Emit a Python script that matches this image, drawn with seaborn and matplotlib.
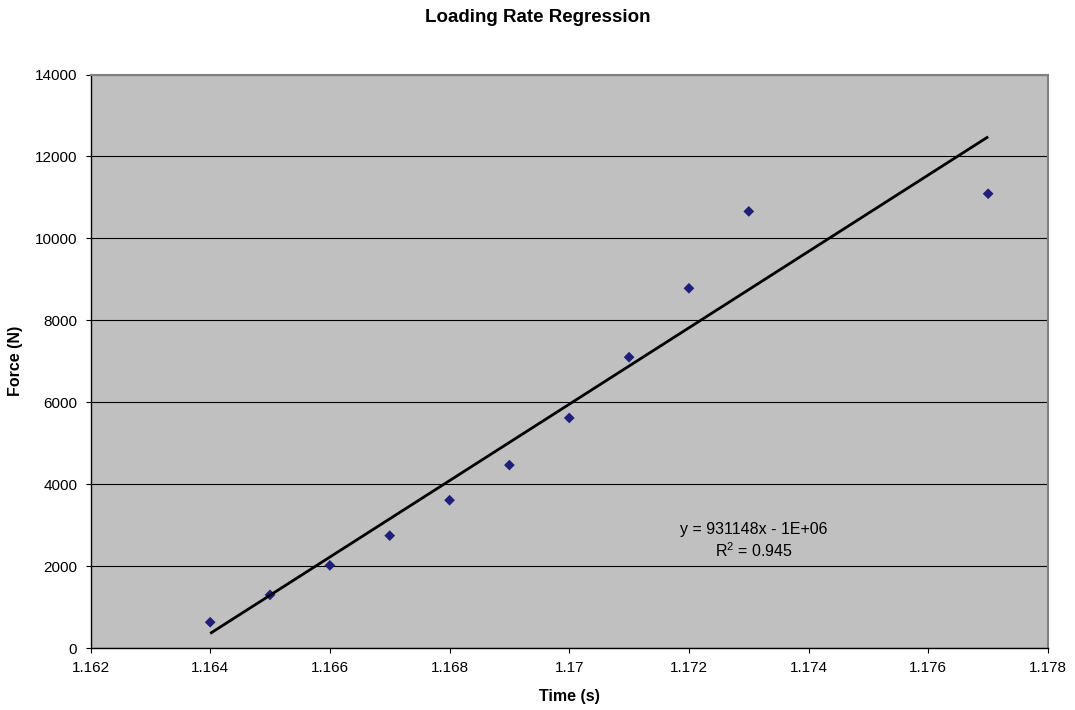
import matplotlib
matplotlib.use("Agg")
import matplotlib.pyplot as plt
import seaborn as sns
import pandas as pd

# Data
time_s = [1.164, 1.165, 1.166, 1.167, 1.168, 1.169, 1.170, 1.171, 1.172, 1.173, 1.177]
force_n = [629, 1297, 2017, 2742, 3608, 4465, 5616, 7099, 8781, 10658, 11089]

x_ticks = [1.162, 1.164, 1.166, 1.168, 1.170, 1.172, 1.174, 1.176, 1.178]
x_tick_labels = ["1.162", "1.164", "1.166", "1.168", "1.17", "1.172", "1.174", "1.176", "1.178"]
y_ticks = [0, 2000, 4000, 6000, 8000, 10000, 12000, 14000]
y_tick_labels = ["0", "2000", "4000", "6000", "8000", "10000", "12000", "14000"]

title = "Loading Rate Regression"
x_label = "Time (s)"
y_label = "Force (N)"
equation = "y = 931148x - 1E+06"
r2_text = "R$^2$ = 0.945"

df = pd.DataFrame({"Time (s)": time_s, "Force (N)": force_n})

sns.set_style("white")
plt.rcParams["font.family"] = ["Liberation Sans", "DejaVu Sans"]
plt.rcParams["mathtext.fontset"] = "custom"
plt.rcParams["mathtext.rm"] = "Liberation Sans"
plt.rcParams["mathtext.it"] = "Liberation Sans"
plt.rcParams["text.color"] = "black"
plt.rcParams["axes.labelcolor"] = "black"

W, H = 1075, 710
fig = plt.figure(figsize=(W / 100, H / 100), dpi=100)
left, right, top, bottom = 90.5, 1048, 74.5, 648
ax = fig.add_axes([left / W, 1 - bottom / H, (right - left) / W, (bottom - top) / H])
ax.set_facecolor("#C0C0C0")

sns.regplot(
    data=df, x="Time (s)", y="Force (N)", ax=ax, ci=None, marker="D",
    scatter_kws=dict(s=30, color="#1F1F7A", alpha=1.0, edgecolors="none", zorder=3),
    line_kws=dict(color="black", lw=2.0, zorder=4, solid_capstyle="butt"),
)

ax.set_xlim(1.162, 1.178)
ax.set_ylim(0, 14000)
ax.set_xticks(x_ticks)
ax.set_xticklabels(x_tick_labels)
ax.set_yticks(y_ticks)
ax.set_yticklabels(y_tick_labels)

ax.yaxis.grid(True, color="black", lw=0.8)
ax.xaxis.grid(False)
ax.set_axisbelow(True)

for s in ["left", "bottom"]:
    ax.spines[s].set_color("black")
    ax.spines[s].set_linewidth(1.0)
for s in ["top", "right"]:
    ax.spines[s].set_color("#808080")
    ax.spines[s].set_linewidth(1.5)

ax.tick_params(axis="both", which="major", direction="out", length=3.5, width=0.8,
               color="black", labelsize=11, labelcolor="black",
               bottom=True, left=True)
ax.tick_params(axis="x", pad=6)
ax.tick_params(axis="y", pad=6)

ax.set_xlabel(x_label, fontsize=11.5, fontweight="bold", color="black")
ax.set_ylabel(y_label, fontsize=11.5, fontweight="bold", color="black")
ax.xaxis.set_label_coords(0.5, -0.072)
ax.yaxis.set_label_coords(-0.0705, 0.5)

fig.text(0.5, 1 - 18 / H, title, ha="center", va="center", fontsize=13.5,
         fontweight="bold", color="black")

ax.text(0.693, 0.207, equation, transform=ax.transAxes, ha="center", va="center",
        fontsize=11.5, color="black")
ax.text(0.693, 0.170, r2_text, transform=ax.transAxes, ha="center", va="center",
        fontsize=11.5, color="black")

fig.savefig("out.png", dpi=100, facecolor="white")
